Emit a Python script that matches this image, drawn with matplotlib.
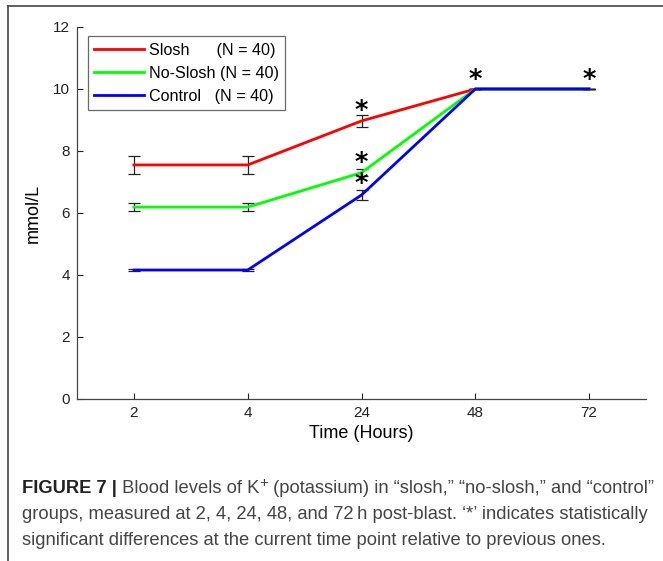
import matplotlib
matplotlib.use("Agg")
import matplotlib.pyplot as plt
from matplotlib import font_manager as fm
import numpy as np

times = ["2", "4", "24", "48", "72"]
slosh = [7.55, 7.55, 8.97, 10.0, 10.0]
slosh_err = [0.30, 0.30, 0.18, 0.0, 0.0]
noslosh = [6.19, 6.19, 7.30, 10.0, 10.0]
noslosh_err = [0.12, 0.12, 0.12, 0.0, 0.0]
control = [4.16, 4.16, 6.58, 10.0, 10.0]
control_err = [0.03, 0.03, 0.17, 0.0, 0.0]
labels = ["Slosh      (N = 40)", "No-Slosh (N = 40)", "Control   (N = 40)"]
# asterisk positions: (time index, value, number of stacked asterisks)
star_idx = [2, 2, 3, 4]
star_val = [9.25, 7.24, 10.25, 10.25]
star_n = [1, 2, 1, 1]

names = {f.name for f in fm.fontManager.ttflist}
narrow = "Liberation Sans Narrow" if "Liberation Sans Narrow" in names else "Liberation Sans"
plt.rcParams["font.family"] = ["Liberation Sans", "DejaVu Sans"]

fig = plt.figure(figsize=(6.63, 5.61), dpi=100)
ax = fig.add_axes([77/663, 1-399/561, (646-77)/663, (399-27)/561])
x = np.arange(1, len(times)+1)
for y, e, c, lab in [(slosh, slosh_err, "#ff0000", labels[0]),
                     (noslosh, noslosh_err, "#00ff00", labels[1]),
                     (control, control_err, "#0000ff", labels[2])]:
    ax.errorbar(x, y, yerr=e, fmt="none", ecolor="#222222", elinewidth=0.9,
                capsize=4, capthick=0.9, zorder=2)
    ax.plot(x, y, color=c, lw=2, label=lab, zorder=3)
for i, v, n in zip(star_idx, star_val, star_n):
    ax.text(x[i], v, "\n".join(["*"] * n), ha="center", va="center", fontsize=18.5,
            fontweight="bold", family="DejaVu Sans", linespacing=0.78, zorder=4)

ax.set_xlim(0.5, 5.5)
ax.set_ylim(0, 12)
ax.set_xticks(x)
ax.set_xticklabels(times)
ax.set_yticks(range(0, 13, 2))
for s in ["top", "right"]:
    ax.spines[s].set_visible(False)
for s in ["left", "bottom"]:
    ax.spines[s].set_color("#444444")
    ax.spines[s].set_linewidth(0.9)
ax.tick_params(direction="in", length=4, labelsize=11, colors="#222222", pad=5)
ax.set_xlabel("Time (Hours)", fontsize=13, labelpad=4)
ax.set_ylabel("mmol/L", fontsize=13, labelpad=8)
leg = ax.legend(loc="upper left", bbox_to_anchor=(0.019, 0.975), fontsize=11.6,
                frameon=True, fancybox=False, handlelength=3.1, handletextpad=0.3,
                borderpad=0.4, labelspacing=0.5, borderaxespad=0)
leg.get_frame().set_edgecolor("#444444")
leg.get_frame().set_linewidth(0.9)

# figure border (top and left only)
fig.add_artist(plt.Line2D([8/663, 1], [1-6/561, 1-6/561], color="#444444", lw=1.2, transform=fig.transFigure))
fig.add_artist(plt.Line2D([8/663, 8/663], [0, 1-6/561], color="#444444", lw=1.2, transform=fig.transFigure))

# caption
fig.canvas.draw()
r = fig.canvas.get_renderer()
fs = 13.2
col = "#444444"
def seq(pieces, y0):
    xx = 22
    for txt, kw in pieces:
        dy = kw.pop("dy", 0)
        t = fig.text(xx/663, 1-(y0+dy)/561, txt, fontsize=kw.pop("fs", fs), va="baseline",
                     ha="left", transform=fig.transFigure, **kw)
        bb = t.get_window_extent(r)
        xx += bb.width
seq([("FIGURE 7 |", dict(family=narrow, fontweight="bold", color="#222222")),
     (" Blood levels of K", dict(family=narrow, color=col)),
     ("+", dict(family=narrow, color=col, dy=-6, fs=11)),
     (" (potassium) in \u201cslosh,\u201d \u201cno-slosh,\u201d and \u201ccontrol\u201d", dict(family=narrow, color=col))], 493)
seq([("groups, measured at 2, 4, 24, 48, and 72\u2009h post-blast. \u2018*\u2019 indicates statistically",
      dict(family=[narrow, "DejaVu Sans"], color=col))], 519)
seq([("significant differences at the current time point relative to previous ones.",
      dict(family=narrow, color=col))], 545)

fig.savefig("out.png", dpi=100)
